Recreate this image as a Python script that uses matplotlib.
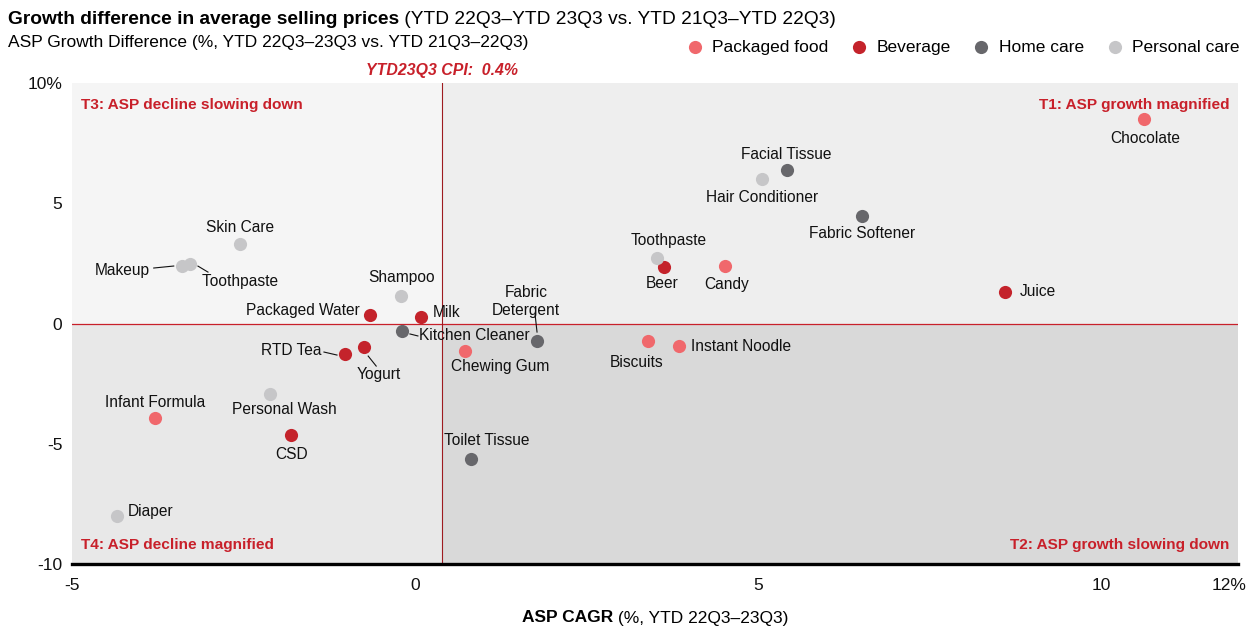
import matplotlib.pyplot as plt
from matplotlib.lines import Line2D
from matplotlib.transforms import IdentityTransform

plt.rcParams['font.family'] = ['Liberation Sans', 'DejaVu Sans']

# data
names = ['Chocolate', 'Facial Tissue', 'Hair Conditioner', 'Fabric Softener',
         'Toothpaste', 'Beer', 'Candy', 'Juice', 'Fabric\nDetergent', 'Biscuits',
         'Instant Noodle', 'Chewing Gum', 'Toilet Tissue', 'Kitchen Cleaner',
         'Milk', 'Shampoo', 'Packaged Water', 'RTD Tea', 'Yogurt', 'Skin Care',
         'Makeup', 'Toothpaste ', 'Personal Wash', 'CSD', 'Infant Formula', 'Diaper']
cagr = [10.63, 5.42, 5.06, 6.52, 3.53, 3.63, 4.52, 8.60, 1.78, 3.40,
        3.85, 0.73, 0.82, -0.19, 0.09, -0.20, -0.66, -1.02, -0.74, -2.55,
        -3.40, -3.28, -2.11, -1.81, -3.79, -4.34]
diff = [8.50, 6.38, 6.01, 4.47, 2.72, 2.35, 2.39, 1.31, -0.73, -0.73,
        -0.94, -1.14, -5.63, -0.31, 0.27, 1.14, 0.35, -1.27, -0.98, 3.31,
        2.39, 2.47, -2.93, -4.64, -3.93, -8.00]
group = ['Packaged food', 'Home care', 'Personal care', 'Home care',
         'Personal care', 'Beverage', 'Packaged food', 'Beverage', 'Home care', 'Packaged food',
         'Packaged food', 'Packaged food', 'Home care', 'Home care',
         'Beverage', 'Personal care', 'Beverage', 'Beverage', 'Beverage', 'Personal care',
         'Personal care', 'Personal care', 'Personal care', 'Beverage', 'Packaged food', 'Personal care']
groups = ['Packaged food', 'Beverage', 'Home care', 'Personal care']
cpi = 0.4
xticks = [-5, 0, 5, 10, 12]
xticklabels = ['-5', '0', '5', '10', '12%']
yticks = [-10, -5, 0, 5, 10]
yticklabels = ['-10', '-5', '0', '5', '10%']

colors = {'Packaged food': '#f0686c', 'Beverage': '#c4232b',
          'Home care': '#67676b', 'Personal care': '#c6c6c8'}
RED = '#c8202a'

# label placement: (dx px, dy px, ha)
lab = {
    'Chocolate': (1, -19, 'center'),
    'Facial Tissue': (0, 16, 'center'),
    'Hair Conditioner': (0, -19, 'center'),
    'Fabric Softener': (0, -18, 'center'),
    'Toothpaste': (12, 18, 'center'),
    'Beer': (-2, -17, 'center'),
    'Candy': (2, -18, 'center'),
    'Juice': (15, 0, 'left'),
    'Fabric\nDetergent': (-11, 40, 'center'),
    'Biscuits': (-12, -21, 'center'),
    'Instant Noodle': (12, 0, 'left'),
    'Chewing Gum': (35, -16, 'center'),
    'Toilet Tissue': (16, 18, 'center'),
    'Kitchen Cleaner': (17, -5, 'left'),
    'Milk': (12, 5, 'left'),
    'Shampoo': (0, 19, 'center'),
    'Packaged Water': (-10, 5, 'right'),
    'RTD Tea': (-23, 4, 'right'),
    'Yogurt': (15, -27, 'center'),
    'Skin Care': (0, 16, 'center'),
    'Makeup': (-32, -4, 'right'),
    'Toothpaste ': (52, -17, 'center'),
    'Personal Wash': (14, -16, 'center'),
    'CSD': (1, -19, 'center'),
    'Infant Formula': (0, 16, 'center'),
    'Diaper': (10, 4, 'left'),
}
# leader lines, pixel offsets from the point (start, end)
leaders = {
    'Fabric\nDetergent': ((-2, 27), (0, 9)),
    'Kitchen Cleaner': ((8, -3), (16, -5)),
    'RTD Tea': ((-21, 2), (-8, -1)),
    'Yogurt': ((4, -9), (12, -19)),
    'Makeup': ((-28, -2), (-8, 0)),
    'Toothpaste ': ((8, -2), (18, -8)),
}

fig = plt.figure(figsize=(12.52, 6.28), dpi=100)
ax = fig.add_axes([72 / 1252, 1 - 564 / 628, (1238 - 72) / 1252, (564 - 83) / 628])
xmin, xmax, ymin, ymax = -5, 12, -10, 10
ax.set_xlim(xmin, xmax)
ax.set_ylim(ymin, ymax)

# quadrant backgrounds
ax.fill_between([xmin, cpi], 0, ymax, color='#f5f5f5', lw=0, zorder=0)
ax.fill_between([cpi, xmax], 0, ymax, color='#eeeeee', lw=0, zorder=0)
ax.fill_between([xmin, cpi], ymin, 0, color='#e8e8e8', lw=0, zorder=0)
ax.fill_between([cpi, xmax], ymin, 0, color='#d9d9d9', lw=0, zorder=0)
ax.axhline(0, color=RED, lw=0.9, zorder=1)
ax.axvline(cpi, color='#9e1b20', lw=0.8, zorder=1)

for g in groups:
    xs = [x for x, gg in zip(cagr, group) if gg == g]
    ys = [y for y, gg in zip(diff, group) if gg == g]
    ax.scatter(xs, ys, s=90, color=colors[g], lw=0, zorder=3, label=g)

for n, x, y in zip(names, cagr, diff):
    dx, dy, ha = lab[n]
    ax.annotate(n, (x, y), xytext=(dx, dy), textcoords='offset pixels',
                ha=ha, va='center', fontsize=11.2, color='#111111', zorder=4,
                linespacing=1.25)
    if n in leaders:
        px, py = ax.transData.transform((x, y))
        (a, b), (c, d) = leaders[n]
        fig.add_artist(Line2D([px + a, px + c], [py + b, py + d], color='#111111',
                              lw=0.8, transform=IdentityTransform(), zorder=5))

qkw = dict(color=RED, fontsize=11.1, fontweight='bold', transform=ax.transAxes)
ax.text(0.008, 0.955, 'T3: ASP decline slowing down', ha='left', va='center', **qkw)
ax.text(0.993, 0.955, 'T1: ASP growth magnified', ha='right', va='center', **qkw)
ax.text(0.008, 0.04, 'T4: ASP decline magnified', ha='left', va='center', **qkw)
ax.text(0.993, 0.04, 'T2: ASP growth slowing down', ha='right', va='center', **qkw)

ax.set_xticks(xticks)
ax.set_xticklabels(xticklabels[:-1] + [''])
# last x label sits a bit left of its tick so it stays inside the figure
ax.annotate(xticklabels[-1], xy=(xticks[-1], 0), xycoords=('data', 'axes fraction'),
            xytext=(-9, -21), textcoords='offset pixels', ha='center', va='center',
            fontsize=12.5, color='#111111', annotation_clip=False)
ax.set_yticks(yticks)
ax.set_yticklabels(yticklabels)
ax.tick_params(length=0, labelsize=12.5, colors='#111111')
ax.tick_params(axis='x', pad=10)
ax.tick_params(axis='y', pad=7)
for s in ['top', 'right', 'left']:
    ax.spines[s].set_visible(False)
ax.spines['bottom'].set_linewidth(2.4)
ax.spines['bottom'].set_color('black')

t = fig.text(8 / 1252, 1 - 20 / 628, 'Growth difference in average selling prices',
             fontsize=13.8, fontweight='bold', va='center', ha='left')
ax.annotate(' (YTD 22Q3–YTD 23Q3 vs. YTD 21Q3–YTD 22Q3)', xy=(1, 0), xycoords=t,
            va='bottom', ha='left', fontsize=13.8, annotation_clip=False)
fig.text(8 / 1252, 1 - 42 / 628, 'ASP Growth Difference (%, YTD 22Q3–23Q3 vs. YTD 21Q3–22Q3)',
         fontsize=12.5, va='center', ha='left')

ax.annotate('YTD23Q3 CPI:  0.4%', xy=(cpi, ymax), xytext=(0, 12),
            textcoords='offset pixels', ha='center', va='center', color=RED,
            fontsize=11.4, fontweight='bold', style='italic', annotation_clip=False)

xl = fig.text(522 / 1252, 1 - 618 / 628, 'ASP CAGR', fontsize=12.5, fontweight='bold',
              va='center', ha='left')
ax.annotate(' (%, YTD 22Q3–23Q3)', xy=(1, 0), xycoords=xl, va='bottom', ha='left',
            fontsize=12.5, annotation_clip=False)

fig.legend(loc='center right', bbox_to_anchor=(1246 / 1252, 1 - 47 / 628), ncol=4,
           frameon=False, fontsize=12.5, handlelength=1.0, handletextpad=0.48,
           columnspacing=1.28, markerscale=1.0, borderaxespad=0)

fig.savefig('out.png', dpi=100, facecolor='white')
